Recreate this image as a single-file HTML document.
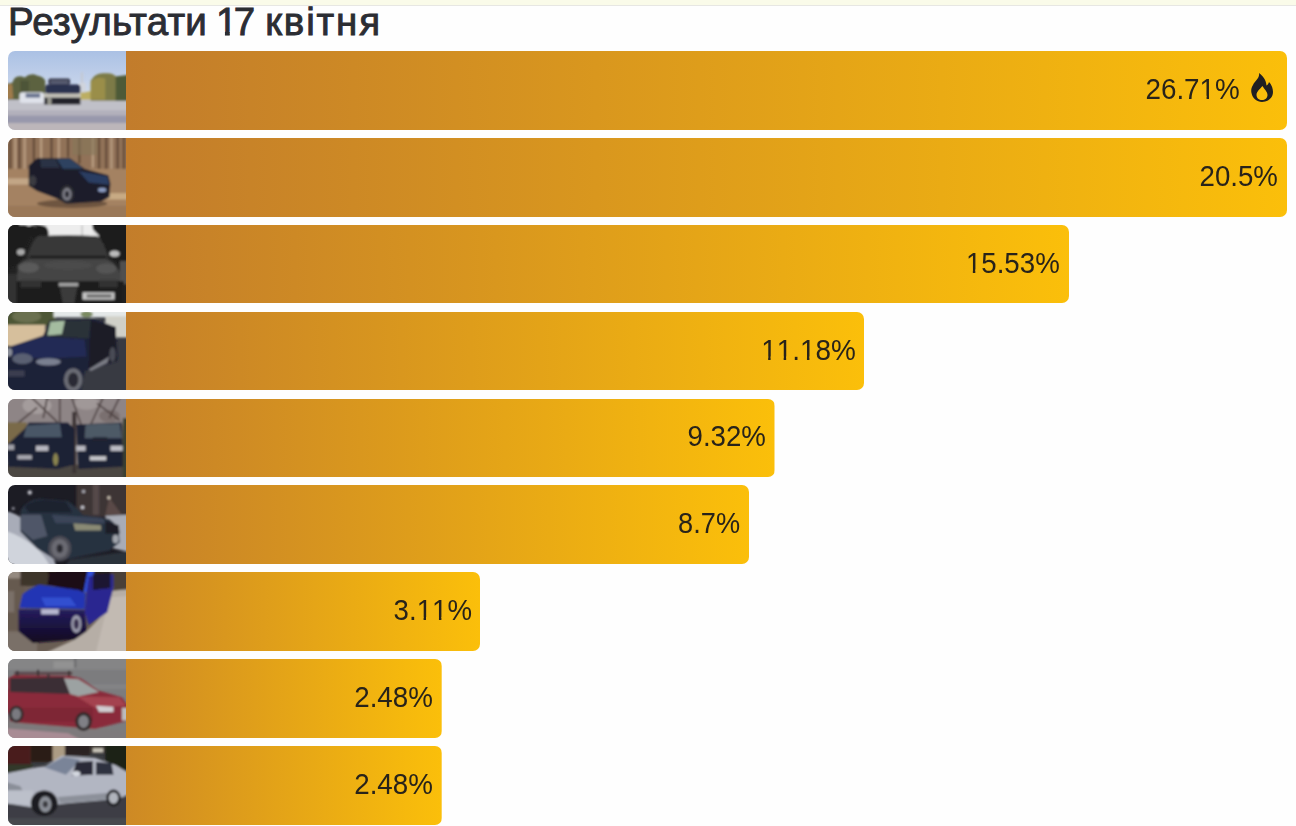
<!DOCTYPE html>
<html lang="uk">
<head>
<meta charset="utf-8">
<title>Результати 17 квітня</title>
<style>
html,body{margin:0;padding:0;}
body{width:1296px;height:826px;overflow:hidden;background:#fefefe;position:relative;font-family:"Liberation Sans",sans-serif;}
.topband{position:absolute;left:0;top:0;width:1296px;height:5px;background:#fafbe9;}
.topline{position:absolute;left:0;top:5px;width:1296px;height:1px;background:#e7e7e3;}
h1{position:absolute;left:0;top:0.3px;margin:0;width:600px;height:44px;font-weight:normal;font-size:38.5px;line-height:44px;color:#2b2d33;white-space:nowrap;}
h1 span.w{position:absolute;top:0;-webkit-text-stroke:0.9px #2b2d33;}
.t1{left:8px;letter-spacing:0.25px;}
.t2{left:216px;letter-spacing:0px;}
.t2 .one1{margin-right:-3.8px;}
.t3{left:265.2px;letter-spacing:1.84px;}
.one1{display:inline-block;clip-path:polygon(-3px -3px,24px -3px,24px 30.6px,13.75px 30.6px,13.75px 50px,8.95px 50px,8.95px 30.6px,-3px 30.6px);}
.bar{position:absolute;left:8px;height:78.5px;border-radius:7px;overflow:hidden;}
.fill{position:absolute;left:118px;right:0;top:0;bottom:0;background-image:linear-gradient(to right,#bc752f,#fbbf0a);background-position:-118px 0;background-repeat:no-repeat;}
.thumb{position:absolute;left:0;top:0;width:118px;height:100%;}
.thumb svg{display:block;width:118px;height:100%;}
.val{position:absolute;right:9.5px;top:-1.25px;height:100%;font-size:30.3px;line-height:78.5px;color:#28231a;white-space:nowrap;transform-origin:100% 50%;}
.one{display:inline-block;clip-path:polygon(-2px -2px,19px -2px,19px 45.9px,10.3px 45.9px,10.3px 80px,7.62px 80px,7.62px 45.9px,-2px 45.9px);}
.fire{position:absolute;right:14px;top:22px;width:22px;height:29px;}
</style>
</head>
<body>
<svg width="0" height="0" style="position:absolute"><defs><filter id="b1" x="-10%" y="-10%" width="120%" height="120%"><feGaussianBlur stdDeviation="0.9"/></filter></defs></svg>
<div class="topband"></div>
<div class="topline"></div>
<h1><span class="w t1">Результати</span> <span class="w t2"><span class="one1">1</span>7</span> <span class="w t3">квітня</span></h1>
<div class="bar" style="top:51.20px;width:1279.0px">
  <div class="fill" style="background-size:1279.0px 100%"></div>
  <div class="thumb"><svg viewBox="0 0 118 78" preserveAspectRatio="none"><g transform="translate(-2,-2) scale(1.0339,1.0513)"><defs><linearGradient id="s1" x1="0" y1="0" x2="0" y2="1"><stop offset="0" stop-color="#a9c0e4"/><stop offset="0.4" stop-color="#c4d2ea"/><stop offset="0.6" stop-color="#d4dcea"/><stop offset="1" stop-color="#d4dcea"/></linearGradient></defs>
<rect width="118" height="78" fill="url(#s1)"/>
<g filter="url(#b1)">
<rect x="-4" y="48" width="126" height="34" fill="#c0c0c8"/>
<rect x="-4" y="58" width="126" height="6" fill="#b2b0bc"/>
<rect x="-4" y="63" width="126" height="7" fill="#9898ac"/>
<rect x="-4" y="70" width="126" height="12" fill="#bcb6ba"/>
<path d="M-4,34 L6,32 L8,28 Q12,24 18,27 Q24,22 30,25 Q36,26 38,30 L38,48 L-4,48 Z" fill="#5c6240"/>
<path d="M-4,34 L6,33 L7,47 L-4,47Z" fill="#a07c4c"/>
<rect x="14" y="30" width="8" height="16" fill="#4e5438"/>
<path d="M72,41 L84,40 L84,48 L72,48Z" fill="#bcae62"/>
<path d="M82,30 Q86,22 96,23 Q104,22 108,28 L118,26 L118,49 L82,49 Z" fill="#7c7a46"/>
<path d="M82,32 Q84,28 90,27 L96,28 L96,48 L82,48Z" fill="#9a8e4a"/>
<path d="M106,26 L122,24 L122,49 L106,49Z" fill="#4e5a38"/>
<rect x="72.5" y="22" width="2" height="18" fill="#c4c8d2"/>
<rect x="71" y="32" width="6" height="9" fill="#d0d4dc"/>
<rect x="13" y="41" width="24" height="10" rx="3" fill="#dfe2ea"/>
<rect x="19" y="42" width="14" height="4" fill="#6a7490"/>
<rect x="41" y="28" width="21" height="6" rx="2" fill="#34364a"/>
<rect x="43" y="29.5" width="17" height="4" fill="#565c70"/>
<rect x="38" y="33.5" width="34" height="9" rx="3" fill="#2a3050"/>
<rect x="36.5" y="42" width="35.5" height="4" rx="1.5" fill="#c2c0b6"/>
<rect x="37" y="46" width="35" height="6.5" fill="#22222a"/>
<rect x="40" y="46" width="4" height="7" fill="#9a9a90"/>
</g></g></svg></div>
  <div class="val" style="right:47.7px;transform:scaleX(0.9177)">26.7<span class="one">1</span>%</div>
  <svg class="fire" viewBox="0 0 22 29"><path fill="#1f1f22" fill-rule="evenodd" d="M8,0 C9,5 4,8 2,12 C0,15 0,18 0.5,20 C1.5,25.5 6,29 11,29 C17,29 22,25 22,19 C22,14.5 20,11 18,9 C17.5,11 16.5,12 15.5,12.5 C15,6.5 11.5,2.5 8,0 Z M11.5,13 C9,16 5.5,18.5 5.5,22 C5.5,25 8,27 11,27 C14,27 16.5,25 16.5,22 C16.5,18.5 13,16 11.5,13 Z"/></svg>
</div>
<div class="bar" style="top:138.05px;width:1279.0px">
  <div class="fill" style="background-size:1279.0px 100%"></div>
  <div class="thumb"><svg viewBox="0 0 118 78" preserveAspectRatio="none"><g transform="translate(-2,-2) scale(1.0339,1.0513)"><rect width="118" height="78" fill="#a48262"/>
<g filter="url(#b1)">
<rect x="-4" y="-4" width="126" height="36" fill="#917258"/>
<path d="M4,-4 v36 M13,-4 v36 M27,-4 v30 M44,-4 v26 M60,-4 v24 M71,-4 v30 M90,-4 v36 M97,-4 v36 M108,-4 v36 M114,-4 v36" stroke="#5e4634" stroke-width="2" fill="none"/>
<path d="M9,-4 v36 M18,-4 v36 M34,-4 v28 M51,-4 v26 M84,-4 v34 M102,-4 v36" stroke="#b89c80" stroke-width="2.2" fill="none"/>
<rect x="64" y="-4" width="24" height="22" fill="#86765a" opacity="0.6"/>
<rect x="-4" y="31" width="126" height="51" fill="#a48262"/>
<rect x="-4" y="40" width="28" height="6" fill="#c2a686"/>
<rect x="94" y="54" width="28" height="6" fill="#c8aa84"/>
<rect x="-4" y="66" width="126" height="16" fill="#9a7858"/>
<ellipse cx="64" cy="64" rx="34" ry="4" fill="#6e5440"/>
<path d="M22,28 L30,21 L62,21 L76,31 L99,37 L101,45 L100,58 L92,62 L60,64 L46,58 L30,52 L22,47 Z" fill="#1a1f2c"/>
<path d="M33,22 L48,21.5 L52,30 L34,30 Z" fill="#2a3244"/>
<path d="M49,21.5 L62,21.5 L75,31 L55,31 Z" fill="#2e4260"/>
<path d="M70,33 L98,38 L100,46 L80,44 Z" fill="#2c3c62"/>
<ellipse cx="26" cy="42" rx="3.5" ry="5" fill="#3a3a40"/>
<ellipse cx="59" cy="55" rx="7" ry="9" fill="#2a2a30"/>
<ellipse cx="59" cy="55" rx="4.5" ry="6" fill="#7a7a84"/>
<ellipse cx="59" cy="55" rx="2" ry="3" fill="#2a2a30"/>
<ellipse cx="93" cy="51" rx="4" ry="2" fill="#8a9ac0"/>
</g></g></svg></div>
  <div class="val" style="right:9.6px;transform:scaleX(0.9121)">20.5%</div>
</div>
<div class="bar" style="top:224.90px;width:1061.2px">
  <div class="fill" style="background-size:1061.2px 100%"></div>
  <div class="thumb"><svg viewBox="0 0 118 78" preserveAspectRatio="none"><g transform="translate(-2,-2) scale(1.0339,1.0513)"><rect width="118" height="78" fill="#222"/>
<g filter="url(#b1)">
<rect x="10" y="-4" width="80" height="17" fill="#e2e2e2"/>
<rect x="40" y="-4" width="44" height="15" fill="#ededed"/>
<path d="M-4,-4 L13,-4 L13,2 Q18,1 22,3 Q30,0 38,3 Q42,6 41,12 L24,14 L12,40 L-4,44 Z" fill="#1e1e1e"/>
<rect x="27.5" y="-4" width="1.2" height="8" fill="#777"/>
<rect x="73" y="2" width="1.2" height="10" fill="#bbb"/>
<path d="M83,-4 L122,-4 L122,40 L106,36 L98,30 L90,12 L84,6 Z" fill="#1c1c1c"/>
<path d="M110,36 L122,36 L122,58 L110,58 Z" fill="#505050"/>
<path d="M-4,48 L12,48 L12,82 L-4,82 Z" fill="#333"/>
<path d="M20,33 Q26,15 31,12.5 Q60,10.5 88,12.5 Q94,15 99,33 Z" fill="#383838"/>
<path d="M24,31 L96,31 L98,33.5 L22,33.5 Z" fill="#1c1c1c"/>
<path d="M11,40 Q18,33 24,33.5 L96,33.5 Q104,35 110,46 L110,56 L11,56 Z" fill="#444"/>
<ellipse cx="22" cy="42" rx="10" ry="5" fill="#5a5a5a"/>
<ellipse cx="97" cy="43" rx="10" ry="5" fill="#555"/>
<ellipse cx="60" cy="40" rx="24" ry="4" fill="#4c4c4c"/>
<rect x="10" y="55" width="104" height="27" fill="#1c1c1c"/>
<rect x="14" y="54" width="20" height="7" fill="#333"/>
<rect x="90" y="54" width="18" height="7" fill="#333"/>
<path d="M51,56.5 L70,56.5 L70,60 L51,60 Z" fill="#a0a0a0"/>
<path d="M52,61 L69,61 L66,76 L55,76 Z" fill="#3a3a3a"/>
<rect x="74" y="65.5" width="31" height="7" fill="#c4c4c4"/>
<rect x="78" y="67.5" width="24" height="3" fill="#6a6a6a"/>
<ellipse cx="14.5" cy="27.5" rx="4" ry="3" fill="#a8a8a8"/>
<ellipse cx="105" cy="29" rx="5" ry="3" fill="#bcbcbc"/>
</g></g></svg></div>
  <div class="val" style="right:9.7px;transform:scaleX(0.9135)"><span class="one">1</span>5.53%</div>
</div>
<div class="bar" style="top:311.75px;width:856.1px">
  <div class="fill" style="background-size:856.1px 100%"></div>
  <div class="thumb"><svg viewBox="0 0 118 78" preserveAspectRatio="none"><g transform="translate(-2,-2) scale(1.0339,1.0513)"><rect width="118" height="78" fill="#383a42"/>
<g filter="url(#b1)">
<rect x="-4" y="-4" width="52" height="19" fill="#4e5634"/>
<ellipse cx="20" cy="6" rx="14" ry="6" fill="#6a7050"/>
<rect x="46" y="-4" width="76" height="11" fill="#e4e8e8"/>
<ellipse cx="78" cy="4" rx="6" ry="3" fill="#7a8a60"/>
<rect x="96" y="6" width="26" height="20" fill="#d0d0c8"/>
<rect x="-4" y="14" width="42" height="20" fill="#d6bf9c"/>
<path d="M0,36 L36,24 L42,10 L84,8 L106,16 L108,48 L96,52 L76,58 L72,78 L0,82 Z" fill="#1c2038"/>
<path d="M6,34 L36,25 L76,28 L78,44 L40,46 L6,44 Z" fill="#232a54"/>
<path d="M42,11 L83,9 L80,27 L38,25 Z" fill="#2a3038"/>
<path d="M43,11 L57,10 L54,23 L40,24 Z" fill="#a4bca0"/>
<path d="M82,10 L106,16 L107,48 L80,56 Z" fill="#1a1a28"/>
<ellipse cx="16" cy="46" rx="10" ry="5" fill="#5a6072"/>
<ellipse cx="41" cy="49" rx="12" ry="3.5" fill="#7a8090"/>
<ellipse cx="3" cy="40" rx="3" ry="4" fill="#8a8e98"/>
<ellipse cx="65" cy="66" rx="9" ry="11" fill="#6a6c74"/>
<ellipse cx="65" cy="66" rx="5" ry="7" fill="#2a2c34"/>
<ellipse cx="103" cy="42" rx="3" ry="7" fill="#4a4c54"/>
<path d="M80,56 L100,44 L98,50 L82,58 Z" fill="#7a7c84"/>
<rect x="2" y="57" width="16" height="6" fill="#3a3e50"/>
</g></g></svg></div>
  <div class="val" style="right:8.5px;transform:scaleX(0.9209)"><span class="one">1</span><span class="one">1</span>.<span class="one">1</span>8%</div>
</div>
<div class="bar" style="top:398.60px;width:766.5px">
  <div class="fill" style="background-size:766.5px 100%"></div>
  <div class="thumb"><svg viewBox="0 0 118 78" preserveAspectRatio="none"><g transform="translate(-2,-2) scale(1.0339,1.0513)"><rect width="118" height="78" fill="#8c8384"/>
<g filter="url(#b1)">
<rect x="-4" y="-4" width="126" height="30" fill="#8e8586"/>
<ellipse cx="30" cy="8" rx="14" ry="8" fill="#a49c9c"/>
<ellipse cx="78" cy="6" rx="12" ry="6" fill="#a09898"/>
<ellipse cx="100" cy="18" rx="10" ry="6" fill="#7a7070"/>
<path d="M20,-4 L50,24 M52,-4 L52,24 M62,-4 L74,30 M96,-4 L82,26 M112,-4 L100,20 M30,10 L10,26 M40,0 L36,20 M88,6 L110,22" stroke="#4e4242" stroke-width="1.6" fill="none"/>
<rect x="-4" y="24" width="24" height="20" fill="#7a6a4a"/>
<rect x="-4" y="64" width="126" height="18" fill="#4c4642"/>
<rect x="64" y="14" width="4" height="58" fill="#3c3636"/>
<path d="M0,46 L18,30 L22,24 L60,24 L66,30 L66,64 L50,68 L2,66 Z" fill="#1e2236"/>
<path d="M20,27 L52,25 L54,38 L17,38 Z" fill="#4a5666"/>
<path d="M68,26 L112,24 L114,66 L70,68 Z" fill="#1e2234"/>
<path d="M77,26 L110,25 L112,39 L76,39 Z" fill="#4e5a66"/>
<rect x="84" y="38" width="14" height="4" fill="#202430"/>
<rect x="29" y="46" width="12" height="5" fill="#b8b8c0"/>
<rect x="1" y="45" width="7" height="5" fill="#a0a0a8"/>
<rect x="68" y="46" width="9" height="5" fill="#b8b8c0"/>
<rect x="101" y="46" width="12" height="5" fill="#bcbcc4"/>
<rect x="11" y="55" width="14" height="4" fill="#a8a8b0"/>
<rect x="81" y="56" width="16" height="4" fill="#c8c8cc"/>
<rect x="113" y="20" width="9" height="62" fill="#3a4030"/>
<ellipse cx="48" cy="59" rx="2.5" ry="6" fill="#8a8450"/>
</g></g></svg></div>
  <div class="val" style="right:8.9px;transform:scaleX(0.9121)">9.32%</div>
</div>
<div class="bar" style="top:485.45px;width:741.0px">
  <div class="fill" style="background-size:741.0px 100%"></div>
  <div class="thumb"><svg viewBox="0 0 118 78" preserveAspectRatio="none"><g transform="translate(-2,-2) scale(1.0339,1.0513)"><rect width="118" height="78" fill="#1c1c24"/>
<g filter="url(#b1)">
<rect x="68" y="-4" width="54" height="36" fill="#3e3436"/>
<rect x="84" y="-4" width="6" height="34" fill="#54484a"/>
<path d="M100,14 L112,30 L96,30 Z" fill="#5a4a46"/>
<circle cx="23" cy="9" r="2.2" fill="#b8b8c0"/>
<circle cx="75" cy="8" r="1.6" fill="#a8a8b0"/>
<circle cx="99.5" cy="14" r="1.6" fill="#c8c0b0"/>
<circle cx="74" cy="23" r="1.8" fill="#c0c0c8"/>
<circle cx="7" cy="24" r="1.5" fill="#8a8a94"/>
<path d="M96,31 L122,30 L122,66 L104,62 Z" fill="#a8acb6"/>
<path d="M-4,26 Q10,28 16,34 L22,52 Q36,58 44,66 L50,82 L-4,82 Z" fill="#a8acb8"/>
<path d="M-4,44 Q16,50 30,62 Q40,72 44,82 L-4,82 Z" fill="#d0d4dc"/>
<path d="M14,26 Q20,16 32,15 L60,17 Q70,24 74,30 L100,34 Q110,40 110,56 L100,64 L70,70 L50,74 L30,62 L14,46 Z" fill="#283040"/>
<path d="M18,22 Q26,16 36,16 L58,18 L64,28 L22,28 Z" fill="#1c222e"/>
<path d="M44,30 L94,33 L96,38 L48,38 Z" fill="#3a4458"/>
<path d="M65,38 L92,40 L92,45 L67,45 Z" fill="#8a8a74"/>
<path d="M96,36 L109,40 L110,48 L96,48 Z" fill="#1a1e28"/>
<ellipse cx="106" cy="53" rx="3" ry="4" fill="#a0a4ac"/>
<path d="M14,30 L34,30 L40,50 L26,54 L14,44 Z" fill="#606878" opacity="0.7"/>
<ellipse cx="52" cy="62" rx="11" ry="12" fill="#4e4e56"/>
<ellipse cx="52" cy="62" rx="8" ry="9" fill="#6a6a72"/>
<ellipse cx="52" cy="62" rx="3" ry="4" fill="#2a2a32"/>
<path d="M62,72 L122,64 L122,82 L54,82 Z" fill="#2c303a"/>
</g></g></svg></div>
  <div class="val" style="right:8.9px;transform:scaleX(0.8969)">8.7%</div>
</div>
<div class="bar" style="top:572.30px;width:472.3px">
  <div class="fill" style="background-size:472.3px 100%"></div>
  <div class="thumb"><svg viewBox="0 0 118 78" preserveAspectRatio="none"><g transform="translate(-2,-2) scale(1.0339,1.0513)"><defs><linearGradient id="g7" x1="0" y1="0" x2="0" y2="1"><stop offset="0" stop-color="#241c60"/><stop offset="1" stop-color="#120a1e"/></linearGradient></defs>
<rect width="118" height="78" fill="#6a5e54"/>
<g filter="url(#b1)">
<rect x="-4" y="-4" width="22" height="86" fill="#665a50"/>
<rect x="-4" y="-4" width="18" height="12" fill="#948a80"/>
<rect x="-4" y="20" width="12" height="20" fill="#7a7068"/>
<rect x="14" y="-4" width="30" height="19" fill="#3e342c"/>
<rect x="-4" y="58" width="34" height="24" fill="#7a7068"/>
<rect x="40" y="-4" width="82" height="8" fill="#2a201c"/>
<path d="M100,-4 L122,-4 L122,22 L104,22 Z" fill="#4a4038"/>
<path d="M76,22 L122,18 L122,82 L30,82 L66,66 L78,58 L98,38 L104,16 Z" fill="#b6aea6"/>
<path d="M100,26 L122,24 L122,82 L86,82 Z" fill="#c2bab2"/>
<path d="M42,2 L80,0 L80,20 L72,21 L40,14 Z" fill="#1a0e18"/>
<path d="M80,-4 L87,-4 L79,21 L75,21 Z" fill="#3050d8"/>
<path d="M80,6 L104,4 L104,16 L98,40 L80,52 L76,40 L78,20 Z" fill="#2a2890"/>
<path d="M84,4 L101,3 L101,17 L84,19 Z" fill="#1e1630"/>
<path d="M16,23 Q22,18 32,14 L70,19 L77,22 L76,37 L13,36 Z" fill="#2236b4"/>
<path d="M34,26 L62,26 L68,34 L38,34 Z" fill="#3250d0"/>
<path d="M12,37 L76,38 L78,58 L66,66 L26,69 L12,58 Z" fill="url(#g7)"/>
<rect x="34" y="37" width="17" height="5" fill="#b8b8d0"/>
<ellipse cx="68" cy="51" rx="5" ry="8.5" fill="#9a9aaa"/>
<ellipse cx="68" cy="51" rx="2.5" ry="5" fill="#3a3050"/>
</g></g></svg></div>
  <div class="val" style="right:8.8px;transform:scaleX(0.9118)">3.<span class="one">1</span><span class="one">1</span>%</div>
</div>
<div class="bar" style="top:659.15px;width:433.7px">
  <div class="fill" style="background-size:433.7px 100%"></div>
  <div class="thumb"><svg viewBox="0 0 118 78" preserveAspectRatio="none"><g transform="translate(-2,-2) scale(1.0339,1.0513)"><rect width="118" height="78" fill="#7c7c7e"/>
<g filter="url(#b1)">
<rect x="-4" y="-4" width="126" height="16" fill="#858586"/>
<rect x="46" y="4" width="20" height="7" fill="#929292"/>
<rect x="66" y="-4" width="2" height="14" fill="#6a6a6c"/>
<rect x="-4" y="26" width="126" height="4" fill="#848486"/>
<path d="M-4,60 L118,70 L122,82 L-4,82Z" fill="#7e7a7c"/>
<path d="M-4,67 L60,72 L80,82 L-4,82Z" fill="#a88c94"/>
<path d="M2,20 L8,17 L62,18 L72,20 L90,32 L112,38 L118,46 L118,60 L86,68 L8,62 L0,50 Z" fill="#8a2c3a"/>
<path d="M4,20 L56,19 L62,35 L4,33 Z" fill="#3a2e34"/>
<path d="M56,20 L70,21 L90,33 L70,37 L62,35 Z" fill="#9ca2a2"/>
<path d="M68,37 L110,38 L116,46 L86,48 Z" fill="#a4424f"/>
<rect x="4" y="48" width="80" height="13" fill="#7e2634"/>
<path d="M87,46 L104,47 L104,52 L90,52 Z" fill="#d0ccd0"/>
<rect x="112" y="48" width="6" height="12" fill="#bcbcbc"/>
<ellipse cx="10" cy="54" rx="7" ry="8" fill="#302a2c"/>
<ellipse cx="10" cy="54" rx="4.5" ry="5.5" fill="#7a7a80"/>
<ellipse cx="75" cy="61" rx="8" ry="9" fill="#302a2c"/>
<ellipse cx="75" cy="61" rx="5" ry="6" fill="#808086"/>
<path d="M8,14 L64,14 L64,17 L8,17 Z" fill="#5e4c50"/>
<rect x="10" y="13" width="2" height="5" fill="#3a3034"/>
<rect x="30" y="12" width="2" height="6" fill="#3a3034"/>
<rect x="40" y="16" width="2" height="5" fill="#3a3034"/>
<rect x="60" y="13" width="2" height="5" fill="#3a3034"/>
</g></g></svg></div>
  <div class="val" style="right:8.3px;transform:scaleX(0.9161)">2.48%</div>
</div>
<div class="bar" style="top:746.00px;width:433.7px">
  <div class="fill" style="background-size:433.7px 100%"></div>
  <div class="thumb"><svg viewBox="0 0 118 78" preserveAspectRatio="none"><g transform="translate(-2,-2) scale(1.0339,1.0513)"><rect width="118" height="78" fill="#3a3c40"/>
<g filter="url(#b1)">
<rect x="-4" y="-4" width="28" height="24" fill="#4a1a1c"/>
<rect x="24" y="-4" width="22" height="21" fill="#2a1a18"/>
<rect x="45" y="-4" width="12" height="20" fill="#ac9c84"/>
<rect x="57" y="-4" width="24" height="15" fill="#2a2220"/>
<rect x="81" y="-4" width="16" height="13" fill="#3a3430"/>
<rect x="84" y="4" width="10" height="4" fill="#c8c4b8"/>
<rect x="96" y="-4" width="26" height="34" fill="#1c2218"/>
<rect x="-4" y="19" width="30" height="8" fill="#30382a"/>
<rect x="-4" y="50" width="126" height="32" fill="#3c3e44"/>
<rect x="-4" y="70" width="126" height="12" fill="#46484e"/>
<path d="M0,28 L30,22 L38,21 L54,11 L86,13 L106,20 L118,27 L118,48 L108,52 L60,56 L26,60 L0,56 Z" fill="#b2b6c2"/>
<path d="M37,22 L56,12 L72,15 L58,29 Z" fill="#7a8498"/>
<path d="M68,17 L84,16 L84,29 L64,30 Z" fill="#2a2c38"/>
<path d="M87,17 L102,18 L104,29 L87,29 Z" fill="#2e3040"/>
<ellipse cx="68" cy="28" rx="4" ry="2.5" fill="#d4d8e0"/>
<path d="M0,36 L14,40 L16,44 L0,44 Z" fill="#8a8e98"/>
<path d="M0,44 L26,44 L26,58 L0,56 Z" fill="#bcc0ca"/>
<path d="M50,50 L100,46 L102,52 L52,56 Z" fill="#8c909a"/>
<ellipse cx="37" cy="56" rx="13" ry="12" fill="#1e1e22"/>
<ellipse cx="38" cy="57" rx="6" ry="7.5" fill="#8a8e96"/>
<ellipse cx="38" cy="57" rx="2.5" ry="3" fill="#3a3a40"/>
<ellipse cx="104" cy="51" rx="7" ry="8" fill="#1e1e22"/>
<ellipse cx="104" cy="51" rx="4.5" ry="5.5" fill="#b0b4bc"/>
</g></g></svg></div>
  <div class="val" style="right:8.3px;transform:scaleX(0.9161)">2.48%</div>
</div>
</body>
</html>
